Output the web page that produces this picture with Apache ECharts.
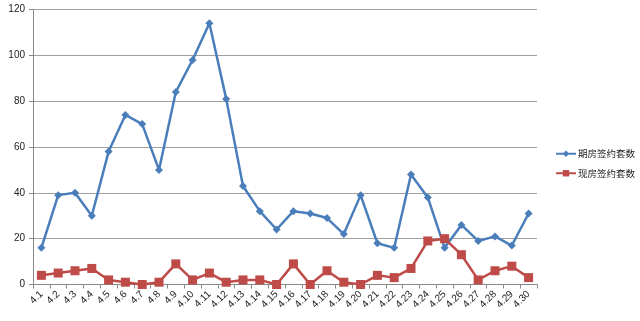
<!DOCTYPE html>
<html><head><meta charset="utf-8">
<script src="https://cdn.jsdelivr.net/npm/echarts@6/dist/echarts.min.js"></script>
<style>html,body{margin:0;padding:0;background:#fff}#c{width:640px;height:321px}</style>
</head><body><div id="c"></div>
<script>
const categories = ['4.1','4.2','4.3','4.4','4.5','4.6','4.7','4.8','4.9','4.10','4.11','4.12','4.13','4.14','4.15','4.16','4.17','4.18','4.19','4.20','4.21','4.22','4.23','4.24','4.25','4.26','4.27','4.28','4.29','4.30'];
const futuresName = '期房签约套数';
const futures = [16,39,40,30,58,74,70,50,84,98,114,81,43,32,24,32,31,29,22,39,18,16,48,38,16,26,19,21,17,31];
const existingName = '现房签约套数';
const existing = [4,5,6,7,2,1,0,1,9,2,5,1,2,2,0,9,0,6,1,0,4,3,7,19,20,13,2,6,8,3];
const yTicks = [0,20,40,60,80,100,120];

const chart = echarts.init(document.getElementById('c'), null, {renderer:'canvas'});
const font = 'Arial, "Liberation Sans", "Noto Sans CJK SC", sans-serif';
chart.setOption({
  animation:false,
  grid:{left:33,right:103,top:9.5,bottom:36.5},
  legend:{
    orient:'vertical', left:550, top:144, itemGap:10, itemWidth:20, itemHeight:8,
    textStyle:{fontSize:9.5, color:'#222', fontFamily:'"Noto Sans CJK SC", sans-serif', padding:[0,0,0,-3]},
    data:[futuresName, existingName]
  },
  xAxis:{
    type:'category', data:categories, boundaryGap:true,
    axisLine:{lineStyle:{color:'#888',width:1}},
    axisTick:{show:true, interval:0, length:4, lineStyle:{color:'#888'}},
    axisLabel:{interval:0, rotate:45, fontSize:10, color:'#222', fontFamily:font, margin:8}
  },
  yAxis:{
    type:'value', min:yTicks[0], max:yTicks[yTicks.length-1], interval:20,
    axisLine:{show:true, lineStyle:{color:'#888'}},
    axisTick:{show:true, length:4, lineStyle:{color:'#888'}},
    axisLabel:{fontSize:10, color:'#222', fontFamily:font, margin:8},
    splitLine:{lineStyle:{color:'#a0a0a0', width:1}}
  },
  series:[
    {name:futuresName, type:'line', data:futures, symbol:'diamond', symbolSize:8,
     lineStyle:{color:'#4a7ebb', width:2.5}, itemStyle:{color:'#4a7ebb'}},
    {name:existingName, type:'line', data:existing, symbol:'rect', symbolSize:9,
     lineStyle:{color:'#be4b48', width:2.5}, itemStyle:{color:'#be4b48'}}
  ]
});
</script></body></html>
